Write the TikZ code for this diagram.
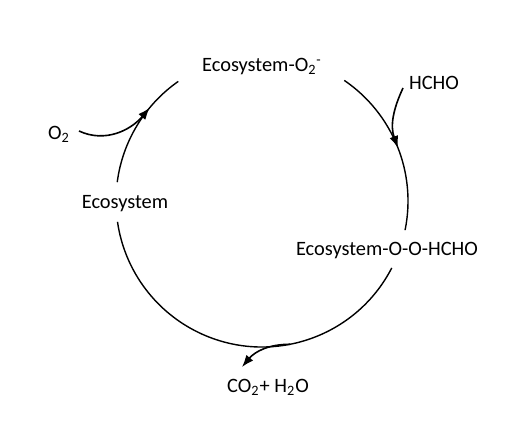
\documentclass[tikz,border=0pt]{standalone}
\usepackage{fontspec}
\setmainfont{Carlito}
\usetikzlibrary{arrows.meta,calc}
\begin{document}
\begin{tikzpicture}[x=0.5pt, y=0.5pt, line width=0.7pt,
    label/.style={anchor=base, inner sep=0pt, font=\fontsize{10.2}{12}\selectfont},
    feed/.style={line width=0.8pt, -{Latex[length=6pt, width=4.5pt]}}]
        \useasboundingbox (0,0) rectangle (528,429);
        \coordinate (c) at (262,228);
        \node[label] (eco) at (125,221) {Ecosystem};
        \node[label] (ecoO2) at (262,357) {Ecosystem-O\textsubscript{2}\textsuperscript{-}};
        \node[label] (hcho) at (434,339) {HCHO};
        \node[label] (ecoOO) at (387,174) {Ecosystem-O-O-HCHO};
        \node[label] (prod) at (268,37) {CO\textsubscript{2}+ H\textsubscript{2}O};
        \node[label] (o2) at (59,290) {O\textsubscript{2}};
        % the cycle
        \draw (c) ++(172.6:73pt) arc [start angle=172.6, end angle=125, radius=73pt];
        \draw (c) ++(55.7:73pt) arc [start angle=55.7, end angle=-11.5, radius=73pt];
        \draw (c) ++(-27.3:73pt) arc [start angle=-27.3, end angle=-171.8, radius=73pt];
        % in and out
        \coordinate (o2out) at (79,298);
        \coordinate (o2in) at ($(c)+(140.3:73pt)$);
        \coordinate (hchoout) at (403,341);
        \coordinate (hchoin) at ($(c)+(21.3:73pt)$);
        \coordinate (prodout) at ($(c)+(-78.9:73pt)$);
        \coordinate (prodin) at (242,62);
        \draw[feed] (o2out) to[out=-25, in=230] (o2in);
        \draw[feed] (hchoout) to[out=-115, in=110] (hchoin);
        \draw[feed] (prodout) to[out=180, in=50] (prodin);
    \end{tikzpicture}
\end{document}
